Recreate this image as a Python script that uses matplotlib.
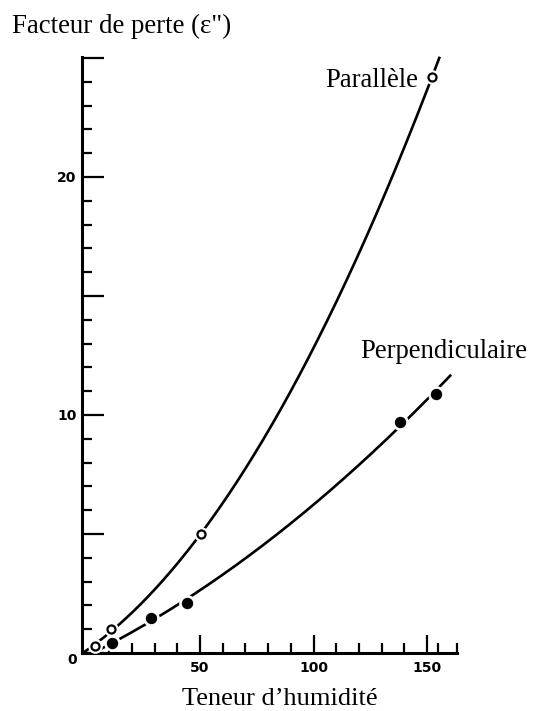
import numpy as np
import matplotlib
matplotlib.use("Agg")
import matplotlib.pyplot as plt
from matplotlib.ticker import FixedLocator, FixedFormatter

# ---- data ----
par_x = [3.7, 10.8, 50.4, 152.2]
par_y = [0.29, 1.0, 5.0, 24.2]
perp_x = [11.2, 28.4, 44.3, 138.0, 154.0]
perp_y = [0.42, 1.47, 2.1, 9.7, 10.9]

x_ticks = [50, 100, 150]
x_tick_labels = ["50", "100", "150"]
y_ticks = [0, 5, 10, 15, 20, 25]
y_tick_labels = ["", "", "10", "", "20", ""]

W, H = 533, 711
fig = plt.figure(figsize=(W / 100, H / 100), dpi=100)
fig.patch.set_facecolor("white")

def fx(px):
    return px / W

def fy(py):
    return 1 - py / H

ax = fig.add_axes([fx(82), fy(653), fx(457) - fx(82), fy(57) - fy(653)])
ax.set_xlim(-2.0, 163.2)
ax.set_ylim(0, 25.04)

for s in ["top", "right"]:
    ax.spines[s].set_visible(False)
for s in ["left", "bottom"]:
    ax.spines[s].set_linewidth(2.2)
    ax.spines[s].set_color("black")

# smooth curves fitted through the measured points
pc = np.polyfit(par_x, par_y, 2)
qc = np.polyfit(perp_x, perp_y, 2)

xs_par = np.linspace(-2, 155.6, 400)
ys_par = np.polyval(pc, xs_par)
m = ys_par >= 0
ax.plot(xs_par[m], ys_par[m], color="black", lw=1.9, solid_capstyle="butt", zorder=2, clip_on=False)

xs_perp = np.linspace(0, 160.6, 400)
ys_perp = np.polyval(qc, xs_perp)
m = ys_perp >= 0
ax.plot(xs_perp[m], ys_perp[m], color="black", lw=1.9, solid_capstyle="butt", zorder=2, clip_on=False)

# white halos around markers (gaps in the line)
ax.plot(par_x, par_y, "o", ms=9.5, color="white", mec="white", zorder=3, clip_on=False)
ax.plot(perp_x, perp_y, "o", ms=11, color="white", mec="white", zorder=3, clip_on=False)
# markers
ax.plot(par_x, par_y, "o", ms=5.8, mfc="white", mec="black", mew=1.6, zorder=4, clip_on=False)
ax.plot(perp_x, perp_y, "o", ms=7.2, mfc="black", mec="black", zorder=4, clip_on=False)

# ticks
ax.yaxis.set_major_locator(FixedLocator(y_ticks))
ax.yaxis.set_major_formatter(FixedFormatter(y_tick_labels))
ax.yaxis.set_minor_locator(FixedLocator([v for v in range(1, 25) if v % 5 != 0]))
ax.xaxis.set_major_locator(FixedLocator(x_ticks))
ax.xaxis.set_major_formatter(FixedFormatter(x_tick_labels))
ax.xaxis.set_minor_locator(FixedLocator([10, 20, 30, 40, 60, 70, 80, 90, 110, 120, 130, 140, 155, 163]))

ax.tick_params(axis="y", which="major", direction="in", length=16, width=1.6, pad=4,
               labelsize=10)
ax.tick_params(axis="y", which="minor", direction="in", length=7.5, width=1.6)
ax.tick_params(axis="x", which="major", direction="in", length=13, width=1.6, pad=6,
               labelsize=10)
ax.tick_params(axis="x", which="minor", direction="in", length=7, width=1.6)
for lab in ax.get_xticklabels() + ax.get_yticklabels():
    lab.set_fontweight("bold")
    lab.set_family("DejaVu Sans")

# origin label
fig.text(fx(72), fy(660), "0", ha="center", va="center", fontsize=10, fontweight="bold",
         family="DejaVu Sans")

serif = ["Liberation Serif", "DejaVu Serif"]
fig.text(fx(12), fy(33), "Facteur de perte (\u03b5\")", ha="left", va="baseline",
         fontsize=19.4, family=serif)
fig.text(fx(182), fy(705), "Teneur d\u2019humidit\u00e9", ha="left", va="baseline",
         fontsize=19, family=serif)
fig.text(fx(418), fy(87), "Parall\u00e8le", ha="right", va="baseline",
         fontsize=19.2, family=serif)
fig.text(fx(527), fy(358), "Perpendiculaire", ha="right", va="baseline",
         fontsize=19.2, family=serif)

fig.savefig("out.png", dpi=100, facecolor="white")
